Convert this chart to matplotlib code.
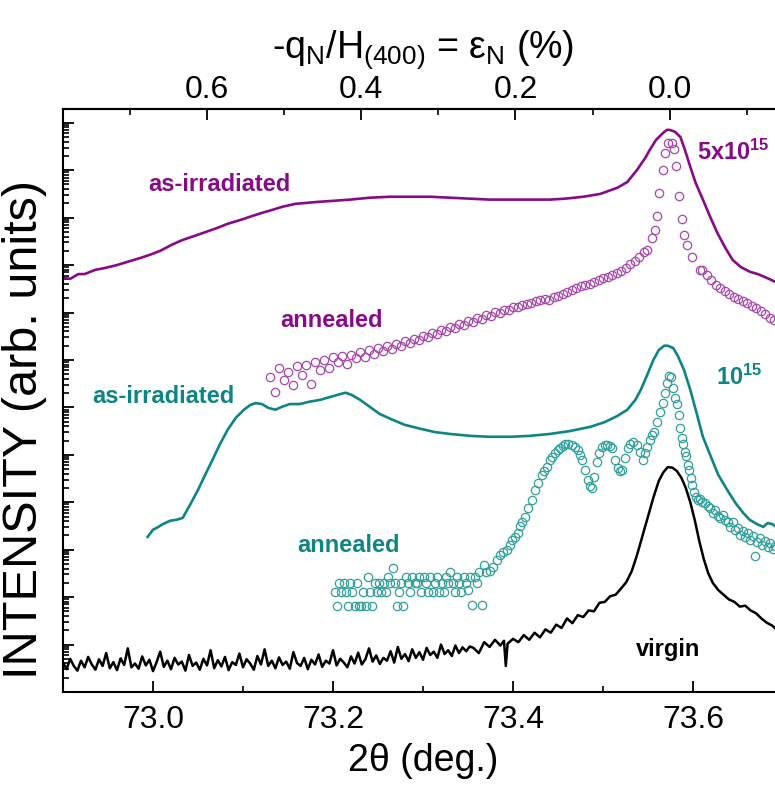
import matplotlib
matplotlib.use('Agg')
import matplotlib.pyplot as plt
import numpy as np
from matplotlib.ticker import MultipleLocator, FixedLocator, LogLocator, NullFormatter

# --- данные (интенсивность хранится как log10) ---
virgin_x = [72.900, 72.904, 72.908, 72.912, 72.916, 72.920, 72.924, 72.928, 72.932, 72.936,
            72.940, 72.944, 72.948, 72.952, 72.956, 72.960, 72.964, 72.968, 72.972, 72.976,
            72.980, 72.984, 72.988, 72.992, 72.996, 73.000, 73.004, 73.008, 73.012, 73.016,
            73.020, 73.024, 73.028, 73.032, 73.036, 73.040, 73.044, 73.048, 73.052, 73.056,
            73.060, 73.064, 73.068, 73.072, 73.076, 73.080, 73.084, 73.088, 73.092, 73.096,
            73.100, 73.104, 73.108, 73.112, 73.116, 73.120, 73.124, 73.128, 73.132, 73.136,
            73.140, 73.144, 73.148, 73.152, 73.156, 73.160, 73.164, 73.168, 73.172, 73.176,
            73.180, 73.184, 73.188, 73.192, 73.196, 73.200, 73.204, 73.208, 73.212, 73.216,
            73.220, 73.224, 73.228, 73.232, 73.236, 73.240, 73.244, 73.248, 73.252, 73.256,
            73.260, 73.264, 73.268, 73.272, 73.276, 73.280, 73.284, 73.288, 73.292, 73.296,
            73.300, 73.304, 73.308, 73.312, 73.316, 73.320, 73.324, 73.328, 73.332, 73.336,
            73.340, 73.344, 73.348, 73.352,
            73.356, 73.362, 73.368, 73.374, 73.380, 73.386, 73.390, 73.392, 73.394, 73.400,
            73.406, 73.412, 73.418, 73.424, 73.430, 73.436, 73.442, 73.448, 73.454, 73.460,
            73.466, 73.472, 73.478, 73.484, 73.490, 73.496, 73.502, 73.508, 73.514, 73.520,
            73.526, 73.532, 73.538, 73.544, 73.550, 73.556, 73.562, 73.567, 73.572, 73.577,
            73.582, 73.587, 73.592, 73.597, 73.602, 73.607, 73.612, 73.617, 73.622, 73.628,
            73.634, 73.640, 73.646, 73.652, 73.658, 73.664, 73.670, 73.676, 73.682, 73.688,
            73.692]
virgin_log = [0.62, 0.48, 0.70, 0.55, 0.45, 0.66, 0.52, 0.74, 0.58, 0.47,
              0.69, 0.55, 0.82, 0.50, 0.63, 0.46, 0.71, 0.57, 0.92, 0.52,
              0.60, 0.49, 0.75, 0.56, 0.68, 0.44, 0.63, 0.85, 0.53, 0.66,
              0.48, 0.72, 0.58, 0.64, 0.45, 0.78, 0.55, 0.62, 0.47, 0.70,
              0.56, 0.88, 0.50, 0.67, 0.54, 0.74, 0.46, 0.63, 0.57, 0.81,
              0.52, 0.69, 0.60, 0.47, 0.76, 0.58, 0.90, 0.55, 0.66, 0.50,
              0.73, 0.57, 0.64, 0.49, 0.84, 0.61, 0.55, 0.72, 0.48, 0.68,
              0.58, 0.79, 0.53, 0.66, 0.60, 0.88, 0.56, 0.70, 0.62, 0.52,
              0.75, 0.60, 0.83, 0.58, 0.69, 0.92, 0.64, 0.77, 0.59, 0.72,
              0.66, 0.86, 0.62, 0.95, 0.70, 0.80, 0.65, 0.90, 0.72, 0.84,
              0.68, 0.93, 0.78, 0.85, 0.72, 1.00, 0.80, 0.88, 0.76, 0.98,
              0.82, 0.94, 0.86, 0.96,
              0.93, 0.82, 1.05, 0.95, 1.10, 0.98, 1.08, 0.55, 1.02, 1.12,
              1.05, 1.20, 1.10, 1.25, 1.15, 1.32, 1.25, 1.42, 1.35, 1.55,
              1.45, 1.62, 1.58, 1.72, 1.70, 1.88, 1.90, 2.02, 2.05, 2.18,
              2.32, 2.55, 2.90, 3.30, 3.70, 4.10, 4.45, 4.63, 4.74, 4.73,
              4.66, 4.52, 4.30, 4.00, 3.62, 3.18, 2.80, 2.50, 2.30, 2.15,
              2.05, 1.95, 1.90, 1.80, 1.82, 1.72, 1.66, 1.55, 1.46, 1.40,
              1.33]

teal_irr_x = [72.994, 73.000, 73.006, 73.011, 73.019, 73.026, 73.033, 73.041, 73.050, 73.058,
              73.066, 73.074, 73.083, 73.092, 73.101, 73.108, 73.114, 73.121, 73.128, 73.136,
              73.143, 73.152, 73.163, 73.174, 73.186, 73.197, 73.208, 73.214, 73.221, 73.230,
              73.241, 73.252, 73.266, 73.280, 73.297, 73.313, 73.330, 73.352, 73.374, 73.397,
              73.419, 73.441, 73.463, 73.486, 73.502, 73.516, 73.527, 73.536, 73.542, 73.549,
              73.556, 73.562, 73.568, 73.572, 73.578, 73.583, 73.590, 73.597, 73.604, 73.611,
              73.619, 73.628, 73.638, 73.647, 73.656, 73.663, 73.671, 73.678, 73.683, 73.688,
              73.691]
teal_irr_log = [3.27, 3.42, 3.48, 3.54, 3.61, 3.63, 3.67, 3.94, 4.26, 4.58,
                4.89, 5.21, 5.53, 5.78, 5.95, 6.05, 6.09, 6.07, 5.99, 5.95,
                6.01, 6.07, 6.07, 6.12, 6.16, 6.22, 6.28, 6.31, 6.26, 6.16,
                6.01, 5.86, 5.74, 5.63, 5.55, 5.48, 5.44, 5.40, 5.38, 5.38,
                5.40, 5.44, 5.50, 5.59, 5.69, 5.82, 5.95, 6.16, 6.37, 6.68,
                7.00, 7.21, 7.30, 7.30, 7.25, 7.09, 6.79, 6.37, 5.88, 5.38,
                5.00, 4.58, 4.26, 3.99, 3.77, 3.63, 3.54, 3.48, 3.56, 3.54,
                3.50]

teal_ann_x = [73.202, 73.204, 73.207, 73.209, 73.212, 73.214, 73.217, 73.219, 73.221, 73.224,
              73.227, 73.229, 73.231, 73.233, 73.237, 73.239, 73.241, 73.243, 73.247, 73.249,
              73.251, 73.253, 73.257, 73.259, 73.261, 73.263, 73.267, 73.269, 73.271, 73.273,
              73.276, 73.278, 73.281, 73.283, 73.286, 73.288, 73.291, 73.293, 73.296, 73.298,
              73.301, 73.303, 73.306, 73.308, 73.311, 73.313, 73.316, 73.318, 73.321, 73.323,
              73.326, 73.328, 73.330, 73.333, 73.336, 73.338, 73.340, 73.342, 73.346, 73.348,
              73.350, 73.352, 73.354, 73.358, 73.360, 73.362, 73.366, 73.368, 73.370,
              73.374, 73.378, 73.382, 73.386, 73.389, 73.393, 73.397, 73.399, 73.402, 73.406,
              73.408, 73.410, 73.413, 73.417, 73.421, 73.424, 73.428, 73.432, 73.434, 73.438,
              73.441, 73.443, 73.447, 73.450, 73.452, 73.456, 73.458, 73.461, 73.466, 73.469,
              73.472, 73.474, 73.477, 73.480, 73.483, 73.486, 73.488, 73.490, 73.493, 73.496,
              73.499, 73.502, 73.504, 73.508, 73.510, 73.513, 73.517, 73.519, 73.521, 73.524,
              73.528, 73.530, 73.533, 73.538, 73.541, 73.544, 73.547, 73.549, 73.552, 73.554,
              73.557, 73.560, 73.563, 73.567, 73.569, 73.571, 73.573, 73.576, 73.578, 73.580,
              73.582, 73.584, 73.586, 73.588, 73.589, 73.591, 73.592, 73.594, 73.596, 73.598,
              73.599, 73.601, 73.603, 73.606, 73.608, 73.610, 73.613, 73.617, 73.619, 73.622,
              73.624, 73.628, 73.630, 73.633, 73.636, 73.639, 73.641, 73.644, 73.647, 73.650,
              73.652, 73.656, 73.658, 73.661, 73.663, 73.667, 73.669, 73.671, 73.674, 73.677,
              73.680, 73.683, 73.686, 73.689, 73.691]
teal_ann_log = [2.11, 1.81, 2.30, 2.11, 2.30, 2.11, 1.81, 2.30, 2.11, 1.81,
                2.30, 1.81, 1.81, 2.11, 1.81, 2.43, 2.11, 1.81, 2.30, 2.11,
                2.30, 2.11, 2.30, 2.11, 2.43, 2.30, 2.61, 2.30, 1.81, 2.11,
                2.30, 1.81, 2.43, 2.30, 2.11, 2.43, 2.30, 2.30, 2.43, 2.11,
                2.43, 2.30, 2.11, 2.43, 2.11, 2.30, 2.43, 2.11, 2.30, 2.11,
                2.43, 2.30, 2.53, 2.30, 2.11, 2.43, 2.30, 2.11, 2.43, 2.30,
                2.15, 2.43, 1.83, 2.43, 2.30, 2.52, 1.83, 2.68, 2.52,
                2.55, 2.64, 2.78, 2.89, 2.95, 2.99, 3.10, 3.21, 3.27, 3.35,
                3.50, 3.58, 3.69, 3.88, 4.05, 4.26, 4.41, 4.58, 4.66, 4.74,
                4.89, 4.96, 5.04, 5.10, 5.15, 5.19, 5.23, 5.23, 5.21, 5.17,
                5.10, 5.00, 4.89, 4.68, 4.47, 4.34, 4.30, 4.53, 4.85, 5.04,
                5.17, 5.21, 5.21, 5.19, 5.15, 4.89, 4.72, 4.66, 4.68, 4.93,
                5.15, 5.23, 5.27, 5.21, 5.06, 4.89, 5.04, 5.17, 5.31, 5.42,
                5.48, 5.69, 5.90, 6.09, 6.31, 6.52, 6.66, 6.64, 6.41, 6.20,
                6.07, 5.84, 5.57, 5.36, 5.23, 5.06, 4.98, 4.79, 4.68, 4.51,
                4.37, 4.22, 4.11, 4.05, 4.07, 4.01, 3.99, 3.92, 3.88, 3.77,
                3.84, 3.71, 3.67, 3.73, 3.63, 3.58, 3.48, 3.58, 3.42, 3.46,
                3.31, 3.40, 3.27, 3.35, 3.21, 3.29, 2.87, 3.16, 3.25, 3.10,
                3.18, 3.06, 3.14, 3.02, 3.08]

purple_irr_x = [72.900, 72.908, 72.917, 72.924, 72.936, 72.947, 72.960, 72.972, 72.986, 72.997,
                73.008, 73.021, 73.033, 73.047, 73.059, 73.071, 73.083, 73.097, 73.108, 73.121,
                73.132, 73.144, 73.158, 73.170, 73.182, 73.197, 73.219, 73.241, 73.263, 73.286,
                73.308, 73.330, 73.352, 73.374, 73.397, 73.419, 73.441, 73.458, 73.478, 73.497,
                73.516, 73.527, 73.538, 73.547, 73.552, 73.559, 73.567, 73.571, 73.574, 73.580,
                73.586, 73.591, 73.597, 73.603, 73.611, 73.619, 73.627, 73.636, 73.644, 73.653,
                73.663, 73.672, 73.682, 73.691]
purple_irr_log = [8.73, 8.71, 8.81, 8.81, 8.90, 8.94, 9.00, 9.07, 9.15, 9.22,
                  9.30, 9.43, 9.53, 9.62, 9.70, 9.78, 9.87, 9.95, 10.02, 10.10,
                  10.16, 10.23, 10.29, 10.31, 10.33, 10.35, 10.38, 10.42, 10.44, 10.44,
                  10.44, 10.42, 10.40, 10.38, 10.38, 10.38, 10.38, 10.40, 10.44, 10.50,
                  10.63, 10.75, 11.01, 11.26, 11.43, 11.64, 11.79, 11.85, 11.85, 11.81,
                  11.70, 11.43, 11.07, 10.73, 10.38, 10.02, 9.68, 9.36, 9.11, 8.96,
                  8.86, 8.81, 8.73, 8.65]

purple_ann_x = [73.130, 73.135, 73.140, 73.145, 73.150, 73.155, 73.160, 73.165, 73.170, 73.175,
                73.180, 73.185, 73.190, 73.195, 73.200, 73.205, 73.210, 73.215, 73.220, 73.225,
                73.230, 73.235, 73.240, 73.245, 73.250, 73.255, 73.260, 73.265, 73.270, 73.275,
                73.280, 73.285, 73.290, 73.295, 73.300, 73.305, 73.310, 73.315, 73.320, 73.325,
                73.330, 73.335, 73.340, 73.345, 73.350, 73.355, 73.360, 73.365, 73.370, 73.375,
                73.380, 73.385, 73.390, 73.395, 73.400, 73.405, 73.410, 73.415, 73.420, 73.425,
                73.430, 73.435, 73.440, 73.445, 73.450, 73.455, 73.460, 73.465, 73.470, 73.475,
                73.480, 73.485, 73.490, 73.495, 73.500, 73.505, 73.510, 73.515, 73.520, 73.525,
                73.530, 73.535, 73.540, 73.545,
                73.549, 73.554, 73.558, 73.560, 73.562, 73.567, 73.569, 73.572, 73.577, 73.579,
                73.581, 73.584, 73.588, 73.590, 73.593, 73.599, 73.608,
                73.610, 73.615, 73.620, 73.625, 73.630, 73.635, 73.640, 73.645, 73.650, 73.655,
                73.660, 73.665, 73.670, 73.675, 73.680, 73.685, 73.690]
purple_ann_log = [6.64, 6.33, 6.83, 6.58, 6.75, 6.47, 6.87, 6.68, 6.90, 6.49,
                  6.96, 6.79, 7.00, 6.83, 7.06, 6.96, 7.09, 6.92, 7.11, 7.04,
                  7.17, 7.06, 7.21, 7.13, 7.25, 7.19, 7.30, 7.23, 7.34, 7.30,
                  7.40, 7.36, 7.44, 7.42, 7.51, 7.49, 7.57, 7.55, 7.63, 7.61,
                  7.70, 7.68, 7.76, 7.74, 7.82, 7.80, 7.89, 7.87, 7.95, 7.93,
                  8.01, 7.99, 8.06, 8.06, 8.12, 8.12, 8.16, 8.18, 8.20, 8.25,
                  8.27, 8.29, 8.27, 8.33, 8.35, 8.39, 8.44, 8.48, 8.52, 8.56,
                  8.58, 8.61, 8.65, 8.69, 8.73, 8.75, 8.79, 8.84, 8.88, 8.94,
                  9.03, 9.09, 9.17, 9.28,
                  9.32, 9.57, 9.74, 10.04, 10.52, 11.01, 11.37, 11.58, 11.58, 11.45,
                  11.09, 10.46, 9.97, 9.64, 9.43, 9.17, 8.90,
                  8.90, 8.79, 8.69, 8.58, 8.52, 8.46, 8.39, 8.33, 8.29, 8.25,
                  8.20, 8.14, 8.10, 8.03, 7.97, 7.89, 7.84]

strain_major = [0.0, 0.2, 0.4, 0.6]
strain_minor = [-0.1, 0.1, 0.3, 0.5, 0.7]

PURPLE = '#880a88'
PURPLE_PT = '#a846ac'
TEAL = '#0d8585'
TEAL_PT = '#32a09b'

FONT = ['Liberation Sans', 'DejaVu Sans']
plt.rcParams['font.family'] = FONT
plt.rcParams['mathtext.default'] = 'regular'


def lin(v):
    return 10 ** np.array(v)


fig = plt.figure(figsize=(7.75, 7.89), dpi=100)
ax = fig.add_axes([63 / 775, 97 / 789, 720 / 775, 583 / 789])

ax.plot(purple_irr_x, lin(purple_irr_log), color=PURPLE, lw=1.9)
ax.plot(purple_ann_x, lin(purple_ann_log), 'o', mfc='none', mec=PURPLE_PT, ms=6, mew=0.9)
ax.plot(teal_irr_x, lin(teal_irr_log), color=TEAL, lw=1.9)
ax.plot(teal_ann_x, lin(teal_ann_log), 'o', mfc='none', mec=TEAL_PT, ms=6, mew=0.9)
ax.plot(virgin_x, lin(virgin_log), color='black', lw=1.8)

ax.set_yscale('log')
ax.set_xlim(72.9, 73.7)
ax.set_ylim(1, 10 ** 12.29)

ax.xaxis.set_major_locator(MultipleLocator(0.2))
ax.xaxis.set_minor_locator(MultipleLocator(0.1))
ax.yaxis.set_major_locator(LogLocator(base=10, numticks=20))
ax.yaxis.set_minor_locator(LogLocator(base=10, subs=np.arange(2, 10), numticks=20))
ax.yaxis.set_major_formatter(NullFormatter())
ax.yaxis.set_minor_formatter(NullFormatter())
ax.tick_params(axis='both', which='major', direction='in', length=8, width=1.3)
ax.tick_params(axis='both', which='minor', direction='in', length=4.5, width=1.2)
ax.tick_params(axis='x', which='both', top=False, labelsize=23, pad=9)
ax.tick_params(axis='y', which='both', right=False)
for s in ax.spines.values():
    s.set_linewidth(1.5)

ax.set_xlabel('2\u03b8 (deg.)', fontsize=27, labelpad=6)
ax.set_ylabel('INTENSITY (arb. units)', fontsize=35)
ax.yaxis.set_label_coords(-0.022, 0.45)

# верхняя ось: деформация
x0 = 73.574
kk = 1.168
top = ax.secondary_xaxis('top', functions=(lambda x: (x0 - x) * kk, lambda e: x0 - e / kk))
top.xaxis.set_major_locator(FixedLocator(strain_major))
top.xaxis.set_minor_locator(FixedLocator(strain_minor))
top.tick_params(which='major', direction='in', length=8, width=1.3, labelsize=23, pad=3)
top.tick_params(which='minor', direction='in', length=4.5, width=1.2)
top.spines['top'].set_linewidth(1.5)
top.set_xlabel('-q$_N$/H$_{(400)}$ = \u03b5$_N$ (%)', fontsize=27, labelpad=12)

# подписи кривых
lab = dict(fontsize=17, fontweight='bold', va='center')
ax.text(73.074, 10 ** 10.69, 'as-irradiated', color=PURPLE, ha='center', **lab)
ax.text(73.198, 10 ** 7.84, 'annealed', color=PURPLE, ha='center', **lab)
ax.text(73.604, 10 ** 11.37, '5x10$^{15}$', color=PURPLE, ha='left', **lab)
ax.text(73.011, 10 ** 6.22, 'as-irradiated', color=TEAL, ha='center', **lab)
ax.text(73.626, 10 ** 6.64, '10$^{15}$', color=TEAL, ha='left', **lab)
ax.text(73.217, 10 ** 3.08, 'annealed', color=TEAL, ha='center', **lab)
ax.text(73.572, 10 ** 0.89, 'virgin', color='black', ha='center', **lab)

fig.savefig('out.png', dpi=100)
